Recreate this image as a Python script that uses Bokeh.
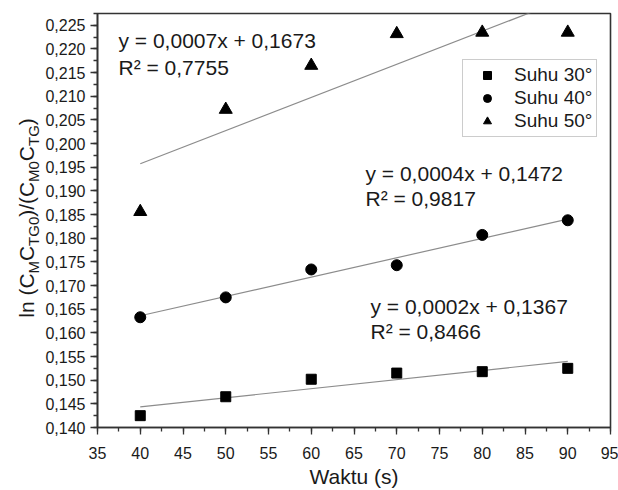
import numpy as np
from bokeh.plotting import figure
from bokeh.layouts import row
from bokeh.models import Label, Range1d, SingleIntervalTicker, CustomJSTickFormatter
from bokeh.embed import file_html
from bokeh.resources import INLINE

# ---- data ----
waktu = [40, 50, 60, 70, 80, 90]
suhu30 = [0.1425, 0.1465, 0.1502, 0.1515, 0.1518, 0.1525]
suhu40 = [0.1633, 0.1675, 0.1734, 0.1743, 0.1807, 0.1838]
suhu50 = [0.1856, 0.2072, 0.2165, 0.2232, 0.2235, 0.2235]
series_names = ["Suhu 30°", "Suhu 40°", "Suhu 50°"]
eq_lines = [
    ["y = 0,0002x + 0,1367", "R² = 0,8466"],
    ["y = 0,0004x + 0,1472", "R² = 0,9817"],
    ["y = 0,0007x + 0,1673", "R² = 0,7755"],
]
x_label = "Waktu (s)"
y_label_parts = [("ln (C", False), ("M", True), ("C", False), ("TG0", True),
                 (")/(C", False), ("M0", True), ("C", False), ("TG", True), (")", False)]

FONT = "Liberation Sans"
TXT = "#1a1a1a"
H = 490
LW = 42
TOP, BOT = 13, 62  # frame borders (shared by both plots in the row)

# ---- main plot ----
p = figure(width=618 - LW, height=H, output_backend="svg", toolbar_location=None,
           x_range=Range1d(35, 95), y_range=Range1d(0.140, 0.2275),
           min_border_left=95 - LW, min_border_right=8, min_border_top=TOP, min_border_bottom=BOT)
p.background_fill_color = "white"
p.border_fill_color = "white"
p.outline_line_color = "#333333"
p.outline_line_width = 1.6
p.xgrid.visible = False
p.ygrid.visible = False

for ax in (p.xaxis, p.yaxis):
    ax.axis_line_color = "#333333"
    ax.axis_line_width = 1.6
    ax.major_tick_line_color = "#333333"
    ax.minor_tick_line_color = "#333333"
    ax.major_tick_line_width = 1.3
    ax.minor_tick_line_width = 1.3
    ax.major_tick_in = 0
    ax.minor_tick_in = 0
    ax.major_tick_out = 7
    ax.minor_tick_out = 4
    ax.major_label_text_font = FONT
    ax.major_label_text_font_size = "16px"
    ax.major_label_text_color = TXT

p.xaxis.ticker = SingleIntervalTicker(interval=5, num_minor_ticks=2)
p.yaxis.ticker = SingleIntervalTicker(interval=0.005, num_minor_ticks=2)
p.yaxis.formatter = CustomJSTickFormatter(code="return tick.toFixed(3).replace('.', ',');")
p.xaxis.major_label_standoff = 12
p.yaxis.major_label_standoff = 5
p.xaxis.axis_label = x_label
p.xaxis.axis_label_text_font = FONT
p.xaxis.axis_label_text_font_size = "21px"
p.xaxis.axis_label_text_font_style = "normal"
p.xaxis.axis_label_text_color = TXT
p.xaxis.axis_label_standoff = 3

# trend lines (least squares)
xs = np.array(waktu, dtype=float)
for ys in (suhu30, suhu40, suhu50):
    m, b = np.polyfit(xs, np.array(ys), 1)
    p.line([xs[0], xs[-1]], [m * xs[0] + b, m * xs[-1] + b], line_color="#8c8c8c", line_width=1.2)

p.scatter(waktu, suhu30, marker="square", size=10, color="black", legend_label=series_names[0])
p.scatter(waktu, suhu40, marker="circle", size=11, color="black", legend_label=series_names[1])
p.scatter(waktu, suhu50, marker="triangle", size=13, color="black", legend_label=series_names[2])

lg = p.legend[0]
lg.location = (365, 290)
lg.border_line_color = "#999999"
lg.border_line_width = 1
lg.padding = 4
lg.spacing = 1
lg.glyph_width = 40
lg.glyph_height = 20
lg.label_height = 20
lg.label_standoff = 7
lg.margin = 0
lg.label_text_font = FONT
lg.label_text_font_size = "19px"
lg.label_text_color = TXT
lg.background_fill_alpha = 1

# equation annotations (screen units relative to frame; anchor = text centre)
eq_pos = [(273, 121), (268, 254.5), (21, 387)]
eq_gap = [25, 25, 27]
for (ex, ey), gap, lines in zip(eq_pos, eq_gap, eq_lines):
    for i, t in enumerate(lines):
        p.add_layout(Label(x=ex, y=ey - gap * i, x_units="screen", y_units="screen", text=t,
                           text_font=FONT, text_font_size="21px", text_color=TXT,
                           text_baseline="middle", text_align="left"))

# ---- left strip carrying the rotated y-axis title with subscripts ----
# its frame is aligned with the main frame (TOP..H-BOT), so map pixels 1:1
q = figure(width=LW, height=H, output_backend="svg", toolbar_location=None,
           x_range=Range1d(0, LW), y_range=Range1d(BOT, H - TOP),
           x_axis_location=None, y_axis_location=None,
           min_border_left=0, min_border_right=0, min_border_top=TOP, min_border_bottom=BOT)
q.outline_line_color = None
q.xgrid.visible = False
q.ygrid.visible = False
q.background_fill_color = "white"
q.border_fill_color = "white"

cw = {"l": .222, "n": .556, " ": .278, "(": .333, ")": .333, "/": .278, "C": .722,
      "M": .833, "T": .611, "G": .778, "0": .556}
main_fs, sub_fs = 21, 15
total = sum(sum(cw[c] for c in t) * (sub_fs if s else main_fs) for t, s in y_label_parts)
ypos = (H - 218) - total / 2.0
for t, s in y_label_parts:
    fs = sub_fs if s else main_fs
    q.add_layout(Label(x=32.8 if s else 26.3, y=ypos, text=t, angle=np.pi / 2,
                       text_font=FONT, text_font_size=f"{fs}px",
                       text_color=TXT, text_baseline="middle", text_align="left"))
    ypos += sum(cw[c] for c in t) * fs

layout = row(q, p)
open("out.html", "w").write(file_html(layout, INLINE))
